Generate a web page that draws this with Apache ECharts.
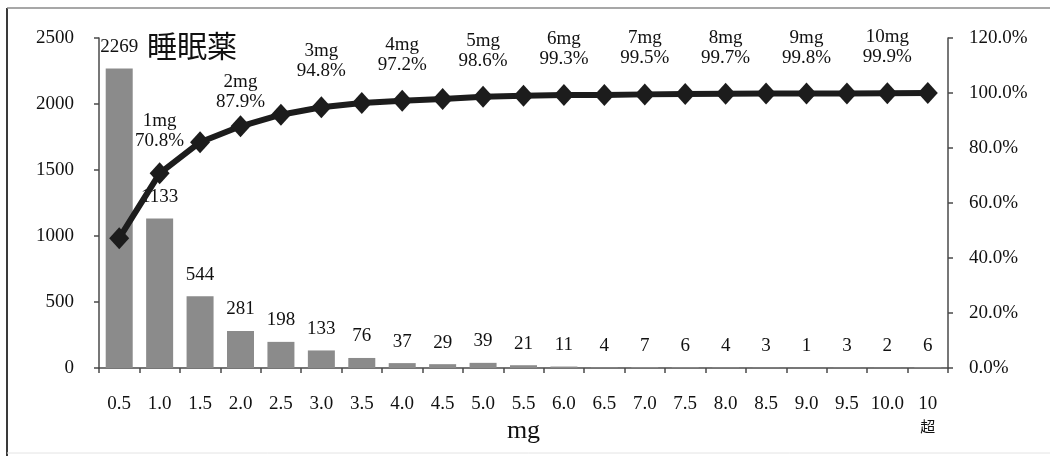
<!DOCTYPE html>
<html>
<head>
<meta charset="utf-8">
<script src="https://cdn.jsdelivr.net/npm/echarts@6/dist/echarts.min.js"></script>
<style>
  html, body { margin: 0; padding: 0; background: #ffffff; }
  #chart { width: 1050px; height: 456px; }
</style>
</head>
<body>
<div id="chart"></div>
<script>
// Sleeping-pill dose distribution: counts per dose (bars) and cumulative share (line)
const doseCategories = ['0.5', '1.0', '1.5', '2.0', '2.5', '3.0', '3.5', '4.0', '4.5', '5.0',
  '5.5', '6.0', '6.5', '7.0', '7.5', '8.0', '8.5', '9.0', '9.5', '10.0', '10\n超'];
const patientCounts = [2269, 1133, 544, 281, 198, 133, 76, 37, 29, 39,
  21, 11, 4, 7, 6, 4, 3, 1, 3, 2, 6];
const cumulativePercent = [47.2, 70.8, 82.1, 87.9, 92.1, 94.8, 96.4, 97.2, 97.8, 98.6,
  99.0, 99.3, 99.3, 99.5, 99.6, 99.7, 99.8, 99.8, 99.8, 99.9, 100.0];
const countTicks = { min: 0, max: 2500, interval: 500 };
const percentTicks = { min: 0, max: 120, interval: 20 };
const chartTitle = '睡眠薬';
const axisName = 'mg';

const serif = '"Liberation Serif", "DejaVu Serif", serif';
const cjk = '"Noto Sans CJK JP", sans-serif';
const axisColor = '#4a4a4a';
const textColor = '#111111';
const fontSize = 19;

// Whole-mg doses carry a "Nmg / xx.x%" tag above the cumulative line
function tagDistance(name) {
  if (name === '1.0') return 11;
  if (name === '2.0') return 3;
  return 15;
}
const lineData = cumulativePercent.map((v, i) => {
  const name = doseCategories[i];
  const num = parseFloat(name);
  const whole = !name.includes('\n') && Number.isInteger(num) && num >= 1;
  return {
    value: v,
    label: whole ? {
      show: true,
      position: 'top',
      distance: tagDistance(name),
      formatter: num + 'mg\n' + v.toFixed(1) + '%'
    } : { show: false }
  };
});

const chart = echarts.init(document.getElementById('chart'), null, { renderer: 'canvas' });
chart.setOption({
  animation: false,
  backgroundColor: '#ffffff',
  grid: { left: 99, right: 102, top: 38, bottom: 88, containLabel: false, outerBoundsMode: 'none' },
  graphic: [
    { type: 'line', shape: { x1: 7, y1: 8, x2: 7, y2: 456 }, style: { stroke: '#3a3a3a', lineWidth: 2 } },
    { type: 'line', shape: { x1: 7, y1: 8, x2: 1050, y2: 8 }, style: { stroke: '#8a8a8a', lineWidth: 1.5 } },
    { type: 'line', shape: { x1: 7, y1: 453, x2: 1050, y2: 453 }, style: { stroke: '#e4e4e4', lineWidth: 1 } },
    {
      type: 'text', left: 147, top: 31,
      style: { text: chartTitle, font: '30px ' + cjk, fill: textColor }
    }
  ],
  xAxis: {
    type: 'category',
    data: doseCategories,
    boundaryGap: true,
    name: axisName,
    nameLocation: 'middle',
    nameGap: 50,
    nameMoveOverlap: false,
    nameTextStyle: { fontFamily: serif, fontSize: 26, color: textColor },
    axisLine: { lineStyle: { color: axisColor, width: 1.5 } },
    axisTick: { show: true, length: 5, inside: false, lineStyle: { color: axisColor, width: 1.5 } },
    axisLabel: {
      margin: 25,
      fontFamily: serif, fontSize: fontSize, color: textColor, lineHeight: 22,
      interval: 0,
      formatter: function (val) {
        if (val.includes('\n')) {
          const parts = val.split('\n');
          return parts[0] + '\n{cjk|' + parts[1] + '}';
        }
        return val;
      },
      rich: { cjk: { fontFamily: cjk, fontSize: 15, color: textColor, lineHeight: 22 } }
    },
    splitLine: { show: false }
  },
  yAxis: [
    {
      type: 'value',
      min: countTicks.min, max: countTicks.max, interval: countTicks.interval,
      axisLine: { show: true, lineStyle: { color: axisColor, width: 1.5 } },
      axisTick: { show: true, length: 5, inside: false, lineStyle: { color: axisColor, width: 1.5 } },
      axisLabel: {
        margin: 25, fontFamily: serif, fontSize: fontSize, color: textColor,
        formatter: function (v) { return String(v); }
      },
      splitLine: { show: false }
    },
    {
      type: 'value',
      min: percentTicks.min, max: percentTicks.max, interval: percentTicks.interval,
      position: 'right',
      axisLine: { show: true, lineStyle: { color: axisColor, width: 1.5 } },
      axisTick: { show: true, length: 5, inside: false, lineStyle: { color: axisColor, width: 1.5 } },
      axisLabel: {
        margin: 21, fontFamily: serif, fontSize: fontSize, color: textColor,
        formatter: function (v) { return v.toFixed(1) + '%'; }
      },
      splitLine: { show: false }
    }
  ],
  series: [
    {
      name: 'count',
      type: 'bar',
      yAxisIndex: 0,
      data: patientCounts,
      barWidth: 27,
      z: 2,
      itemStyle: { color: '#8b8b8b' },
      label: {
        show: true, position: 'top', distance: 12,
        fontFamily: serif, fontSize: fontSize, color: textColor
      }
    },
    {
      name: 'cumulative',
      type: 'line',
      yAxisIndex: 1,
      data: lineData,
      z: 4,
      symbol: 'diamond',
      symbolSize: [20, 22],
      showAllSymbol: true,
      lineStyle: { color: '#1c1c1c', width: 6 },
      itemStyle: { color: '#1c1c1c' },
      label: { fontFamily: serif, fontSize: fontSize, color: textColor, lineHeight: 20, align: 'center' }
    }
  ]
});
</script>
</body>
</html>
